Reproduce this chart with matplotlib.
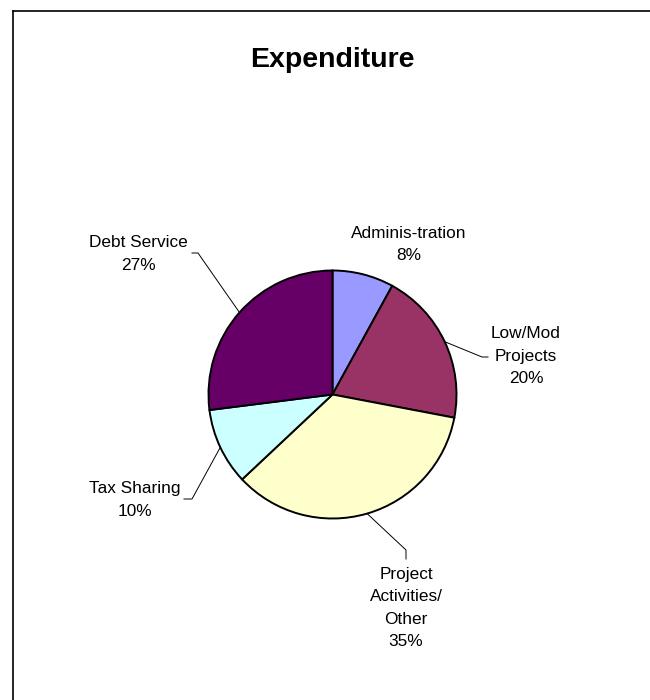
import numpy as np
import matplotlib.pyplot as plt

# expenditure breakdown
categories = ['Adminis-tration', 'Low/Mod\nProjects', 'Project\nActivities/\nOther',
              'Tax Sharing', 'Debt Service']
shares = [8, 20, 35, 10, 27]
colors = ['#9999FF', '#993366', '#FFFFCC', '#CCFFFF', '#660066']

# label anchor positions in pixel space (x, y from top) and leader elbows
label_pos = [(409, 244.5), (526, 356), (406, 608), (135, 500), (138, 254)]
elbows = [None, [(482, 357), (488, 357)], [(406, 550), (406, 559)],
          [(192, 499), (184, 499)], [(198, 253), (192, 253)]]

W, H = 650, 700
cx, cy, radius = 332.5, 394.5, 124

plt.rcParams['font.family'] = ['Liberation Sans', 'DejaVu Sans']

fig = plt.figure(figsize=(W / 100, H / 100), dpi=100)
ax = fig.add_axes([0, 0, 1, 1])
ax.set_xlim(0, W)
ax.set_ylim(0, H)
ax.set_aspect('equal')
ax.axis('off')


def py(y):
    return H - y


wedges, _ = ax.pie(shares, colors=colors, startangle=90, counterclock=False,
                   center=(cx, py(cy)), radius=radius,
                   wedgeprops=dict(edgecolor='black', linewidth=1.4))
ax.set_xlim(0, W)
ax.set_ylim(0, H)

for w, name, val, (lx, ly), elb in zip(wedges, categories, shares, label_pos, elbows):
    ax.text(lx, py(ly), f'{name}\n{val}%', ha='center', va='center',
            fontsize=12.4, linespacing=1.62, color='black')
    if elb is None:
        continue
    mid = np.deg2rad((w.theta1 + w.theta2) / 2)
    xs = [cx + radius * np.cos(mid)] + [p[0] for p in elb]
    ys = [py(cy) + radius * np.sin(mid)] + [py(p[1]) for p in elb]
    ax.plot(xs, ys, color='black', linewidth=0.7)

ax.text(W / 2 + 7, py(60), 'Expenditure', ha='center', va='center',
        fontsize=20.5, fontweight='bold')

# frame lines along the top and left
ax.plot([12.5, W], [py(10.5), py(10.5)], color='black', linewidth=1.2)
ax.plot([12.5, 12.5], [py(10.5), 0], color='black', linewidth=1.2)

fig.savefig('out.png', dpi=100)
